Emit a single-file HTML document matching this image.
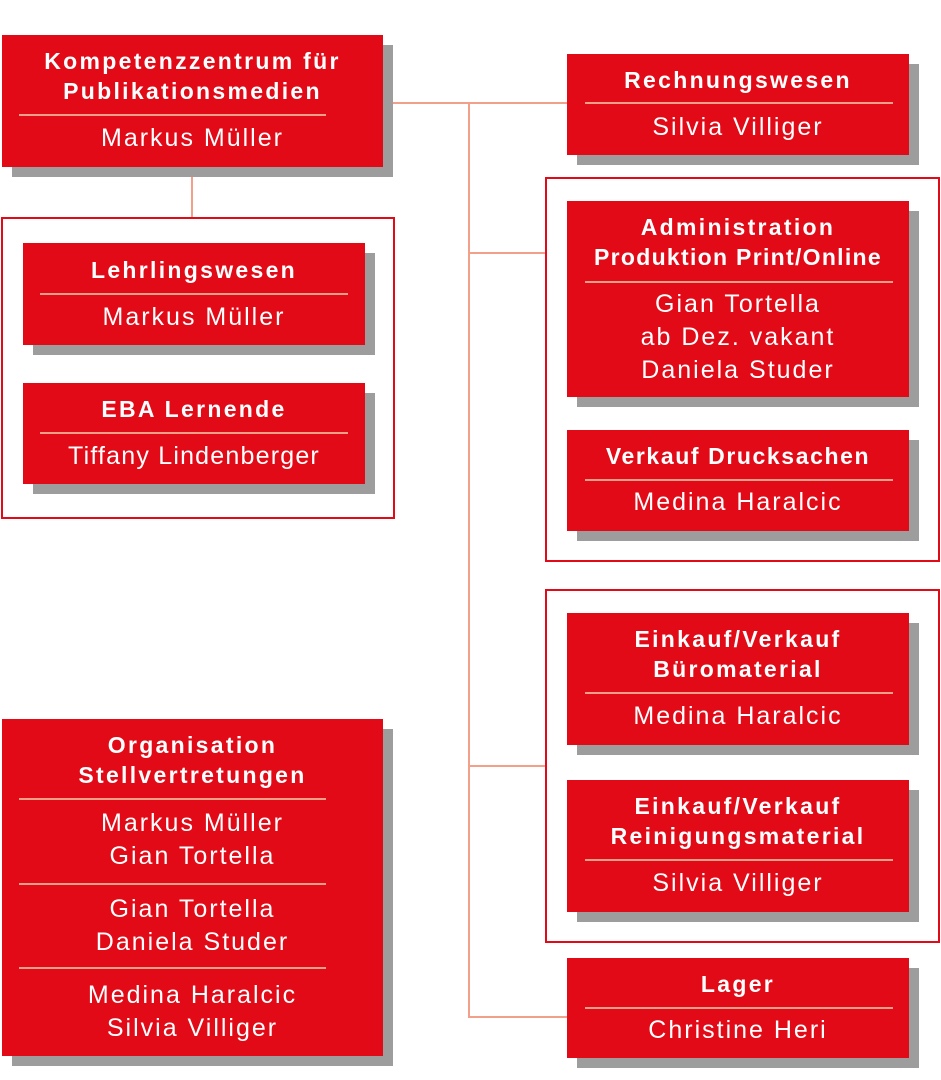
<!DOCTYPE html>
<html><head><meta charset="utf-8"><style>
body{margin:0;width:941px;height:1080px;background:#fff;position:relative;overflow:hidden;font-family:"Liberation Sans",sans-serif}
.b{position:absolute;background:#e20a17;box-shadow:10px 10px 0 #9d9d9d}
.f{position:absolute;border:2px solid #e20a17;box-sizing:border-box}
.t,.n{position:absolute;color:#fff;text-align:center;white-space:nowrap;height:30px;line-height:30px}
.t{font-weight:bold;font-size:23px;letter-spacing:2.3px}
.n{font-size:25px;letter-spacing:2px}
.l{position:absolute;height:2px;background:#f3a08a}
.c{position:absolute;background:#f3a08a}
</style></head><body>
<div class="c" style="left:393px;top:102px;width:174px;height:2px"></div>
<div class="c" style="left:468px;top:102px;width:2px;height:916px"></div>
<div class="c" style="left:468px;top:252px;width:77px;height:2px"></div>
<div class="c" style="left:468px;top:765px;width:77px;height:2px"></div>
<div class="c" style="left:468px;top:1016px;width:99px;height:2px"></div>
<div class="c" style="left:191px;top:177px;width:2px;height:41px"></div>
<div class="f" style="left:1px;top:217px;width:394px;height:302px"></div>
<div class="f" style="left:545px;top:177px;width:395px;height:385px"></div>
<div class="f" style="left:545px;top:589px;width:395px;height:354px"></div>

<div class="b" style="left:2px;top:35px;width:381px;height:132px"></div>
<div class="t" style="left:2px;width:381px;top:46px">Kompetenzzentrum für</div>
<div class="t" style="left:2px;width:381px;top:76px">Publikationsmedien</div>
<div class="l" style="left:19px;width:307px;top:114px"></div>
<div class="n" style="left:2px;width:381px;top:123px">Markus Müller</div>

<div class="b" style="left:23px;top:243px;width:342px;height:102px"></div>
<div class="t" style="left:23px;width:342px;top:255px">Lehrlingswesen</div>
<div class="l" style="left:40px;width:308px;top:293px"></div>
<div class="n" style="left:23px;width:342px;top:302px">Markus Müller</div>

<div class="b" style="left:23px;top:383px;width:342px;height:101px"></div>
<div class="t" style="left:23px;width:342px;top:394px">EBA Lernende</div>
<div class="l" style="left:40px;width:308px;top:432px"></div>
<div class="n" style="left:23px;width:342px;top:441px;letter-spacing:1.2px">Tiffany Lindenberger</div>

<div class="b" style="left:567px;top:54px;width:342px;height:101px"></div>
<div class="t" style="left:567px;width:342px;top:65px">Rechnungswesen</div>
<div class="l" style="left:585px;width:308px;top:102px"></div>
<div class="n" style="left:567px;width:342px;top:112px">Silvia Villiger</div>

<div class="b" style="left:567px;top:201px;width:342px;height:196px"></div>
<div class="t" style="left:567px;width:342px;top:212px">Administration</div>
<div class="t" style="left:567px;width:342px;top:242px;letter-spacing:1.3px">Produktion Print/Online</div>
<div class="l" style="left:585px;width:308px;top:281px"></div>
<div class="n" style="left:567px;width:342px;top:289px">Gian Tortella</div>
<div class="n" style="left:567px;width:342px;top:322px">ab Dez. vakant</div>
<div class="n" style="left:567px;width:342px;top:355px">Daniela Studer</div>

<div class="b" style="left:567px;top:430px;width:342px;height:101px"></div>
<div class="t" style="left:567px;width:342px;top:441px;letter-spacing:1.6px">Verkauf Drucksachen</div>
<div class="l" style="left:585px;width:308px;top:479px"></div>
<div class="n" style="left:567px;width:342px;top:487px">Medina Haralcic</div>

<div class="b" style="left:567px;top:613px;width:342px;height:132px"></div>
<div class="t" style="left:567px;width:342px;top:624px">Einkauf/Verkauf</div>
<div class="t" style="left:567px;width:342px;top:654px">Büromaterial</div>
<div class="l" style="left:585px;width:308px;top:692px"></div>
<div class="n" style="left:567px;width:342px;top:701px">Medina Haralcic</div>

<div class="b" style="left:567px;top:780px;width:342px;height:132px"></div>
<div class="t" style="left:567px;width:342px;top:791px">Einkauf/Verkauf</div>
<div class="t" style="left:567px;width:342px;top:821px">Reinigungsmaterial</div>
<div class="l" style="left:585px;width:308px;top:859px"></div>
<div class="n" style="left:567px;width:342px;top:868px">Silvia Villiger</div>

<div class="b" style="left:567px;top:958px;width:342px;height:100px"></div>
<div class="t" style="left:567px;width:342px;top:969px">Lager</div>
<div class="l" style="left:585px;width:308px;top:1007px"></div>
<div class="n" style="left:567px;width:342px;top:1015px">Christine Heri</div>

<div class="b" style="left:2px;top:719px;width:381px;height:337px"></div>
<div class="t" style="left:2px;width:381px;top:730px">Organisation</div>
<div class="t" style="left:2px;width:381px;top:760px">Stellvertretungen</div>
<div class="l" style="left:19px;width:307px;top:798px"></div>
<div class="n" style="left:2px;width:381px;top:808px">Markus Müller</div>
<div class="n" style="left:2px;width:381px;top:841px">Gian Tortella</div>
<div class="l" style="left:19px;width:307px;top:883px"></div>
<div class="n" style="left:2px;width:381px;top:894px">Gian Tortella</div>
<div class="n" style="left:2px;width:381px;top:927px">Daniela Studer</div>
<div class="l" style="left:19px;width:307px;top:967px"></div>
<div class="n" style="left:2px;width:381px;top:980px">Medina Haralcic</div>
<div class="n" style="left:2px;width:381px;top:1013px">Silvia Villiger</div>
</body></html>
